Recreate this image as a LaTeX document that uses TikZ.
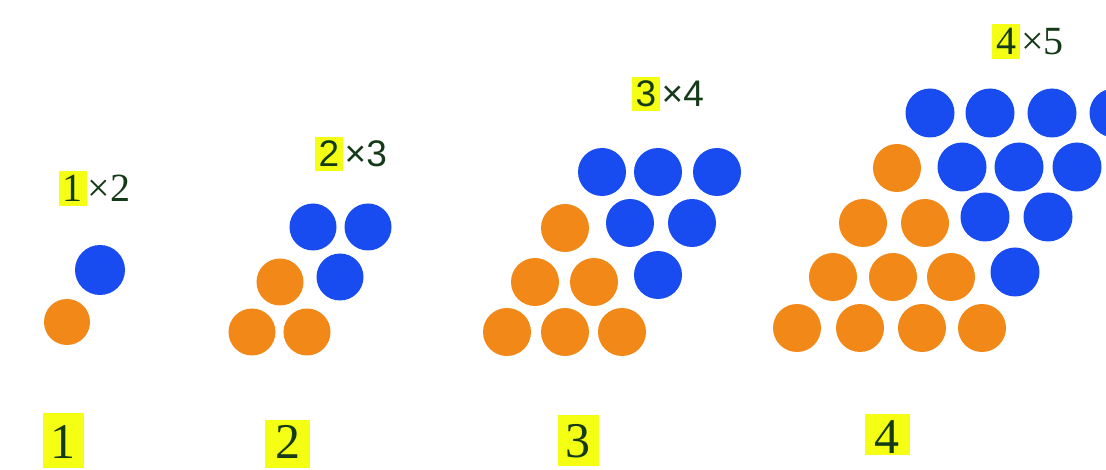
\documentclass[tikz,border=0pt]{standalone}
\usepackage{fontspec}
\setmainfont{Liberation Serif}
\setsansfont{Liberation Sans}
\definecolor{dotorange}{RGB}{242,136,24}
\definecolor{dotblue}{RGB}{24,76,240}
\definecolor{hlyellow}{RGB}{245,255,20}
\definecolor{txtgreen}{RGB}{20,58,24}
\begin{document}
\begin{tikzpicture}[x=1pt,y=-1pt,
  dotbase/.style={circle, inner sep=0pt, draw=none},
  odot/.style={dotbase, fill=dotorange},
  bdot/.style={dotbase, fill=dotblue},
  toplbl/.style={text=txtgreen, inner sep=0pt, font=\fontsize{40}{40}\selectfont},
  toplblsf/.style={text=txtgreen, inner sep=0pt, font=\sffamily\fontsize{37}{37}\selectfont},
  tophl/.style={fill=hlyellow, inner xsep=4pt, inner ysep=4pt, text height=27pt, text depth=0pt},
  botlbl/.style={text=txtgreen, fill=hlyellow, font=\fontsize{50}{50}\selectfont, text depth=0pt}
]
\path[use as bounding box] (0,0) rectangle (1106,470);
\clip (0,0) rectangle (1106,470);
\fill[white] (0,0) rectangle (1106,470);

% diagram 1
\node[odot, minimum size=46pt] (a1) at (67,322) {};
\node[bdot, minimum size=50pt] (a2) at (100,270) {};

% diagram 2
\foreach \n/\x/\y in {o1/252/332, o2/307/332, o3/280/282}
  \node[odot, minimum size=47pt] (b\n) at (\x,\y) {};
\foreach \n/\x/\y in {u1/340/277, u2/313/227, u3/368/227}
  \node[bdot, minimum size=47pt] (b\n) at (\x,\y) {};

% diagram 3
\foreach \n/\x/\y in {o1/507/332, o2/565/332, o3/622/332, o4/535/282, o5/594/282, o6/565/228}
  \node[odot, minimum size=48pt] (c\n) at (\x,\y) {};
\foreach \n/\x/\y in {u1/658/275, u2/630/223, u3/692/223, u4/602/172, u5/658/172, u6/717/172}
  \node[bdot, minimum size=48pt] (c\n) at (\x,\y) {};

% diagram 4
\foreach \n/\x/\y in {o1/797/328, o2/860/328, o3/922/328, o4/982/328,
                      o5/833/277, o6/893/277, o7/951/277,
                      o8/863/223, o9/925/223, o10/897/168}
  \node[odot, minimum size=48pt] (d\n) at (\x,\y) {};
\foreach \n/\x/\y in {u1/1015/272, u2/985/217, u3/1048/217,
                      u4/962/167, u5/1019/167, u6/1077/167,
                      u7/930/113, u8/990/113, u9/1052/113, u10/1114/113}
  \node[bdot, minimum size=49pt] (d\n) at (\x,\y) {};

% top labels
\node[toplbl, tophl, anchor=base] (t1) at (72.5,202) {1};
\node[toplbl, anchor=base west] (t1x) at ([xshift=1pt]t1.base east) {×2};
\node[toplblsf, tophl, text height=26pt, anchor=base] (t2) at (329,167) {2};
\node[toplblsf, anchor=base west] (t2x) at ([xshift=1pt]t2.base east) {×3};
\node[toplblsf, tophl, text height=26pt, anchor=base] (t3) at (646,107) {3};
\node[toplblsf, anchor=base west] (t3x) at ([xshift=1pt]t3.base east) {×4};
\node[toplbl, tophl, anchor=base] (t4) at (1006,55) {4};
\node[toplbl, anchor=base west] (t4x) at ([xshift=1pt]t4.base east) {×5};

% bottom labels
\node[botlbl, anchor=base, inner xsep=8pt, inner ysep=5pt, text height=40pt, text depth=5pt] (n1) at (63,458) {1};
\node[botlbl, anchor=base, inner xsep=10pt, inner ysep=5pt, text height=33pt, text depth=5pt] (n2) at (287.5,458) {2};
\node[botlbl, anchor=base, inner xsep=8pt, inner ysep=9pt, text height=33pt] (n3) at (578,457) {3};
\node[botlbl, anchor=base, inner xsep=10pt, inner ysep=2pt, text height=37pt] (n4) at (887,453) {4};
\end{tikzpicture}
\end{document}
